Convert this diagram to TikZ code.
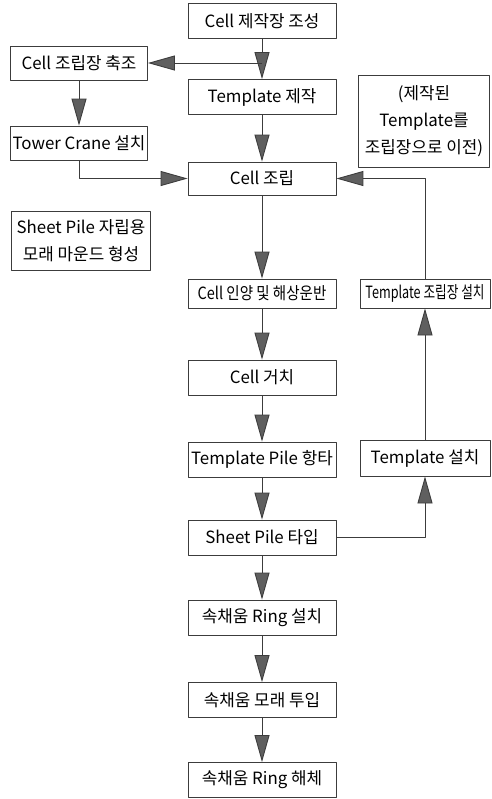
\documentclass[tikz,border=0pt]{standalone}
\usepackage{fontspec}
\usepackage{graphicx}
\setmainfont{Noto Sans CJK KR}
\usetikzlibrary{arrows.meta}
\definecolor{linegray}{RGB}{60,60,60}
\definecolor{tipgray}{RGB}{95,95,95}
\begin{document}
\begin{tikzpicture}[x=0.02cm, y=-0.02cm, font=\fontsize{9.6}{15.5}\selectfont, line join=round,
	box/.style={draw=linegray, line width=0.5pt, inner sep=0pt, align=center, minimum width=2.96cm, minimum height=0.7cm},
	arr/.style={draw=linegray, line width=0.5pt, -{Triangle[length=0.54cm, width=0.3cm, fill=tipgray]}}]
	\useasboundingbox (0,0) rectangle (491,799);
	\def\cx{262} \def\lx{79} \def\rx{425} % giữa, trái, phải (cột)
	% cột giữa
	\node[box] (make) at (\cx,21) {Cell 제작장 조성};
	\node[box] (tpl) at (\cx,97) {Template 제작};
	\node[box, minimum height=0.66cm] (asm) at (\cx,178.5) {Cell 조립};
	\node[box, minimum height=0.58cm] (lift) at (\cx,293.5) {\scalebox{0.86}[1]{Cell 인양 및 해상운반}};
	\node[box] (seat) at (\cx,377.5) {Cell 거치};
	\node[box] (tpile) at (\cx,459.5) {Template Pile 항타};
	\node[box] (spile) at (\cx,537.5) {Sheet Pile 타입};
	\node[box] (rset) at (\cx,617.5) {속채움 Ring 설치};
	\node[box] (sand) at (\cx,700) {속채움 모래 투입};
	\node[box] (rrem) at (\cx,780) {속채움 Ring 해체};
	% cột trái
	\node[box, minimum width=2.74cm, minimum height=0.68cm] (yard) at (\lx,63) {Cell 조립장 축조};
	\node[box, minimum width=2.74cm, minimum height=0.68cm] (crane) at (\lx,143) {Tower Crane 설치};
	\node[box, minimum width=2.78cm, minimum height=1.18cm] (mound) at (81,240.5) {Sheet Pile 자립용\\모래 마운드 형성};
	% cột phải
	\node[box, minimum width=2.62cm, minimum height=1.84cm] (note) at (424,121) {(제작된\\Template를\\조립장으로 이전)};
	\node[box, minimum width=2.6cm, minimum height=0.58cm] (tyard) at (\rx,293.5) {\scalebox{0.75}[1]{Template 조립장 설치}};
	\node[box, minimum width=2.6cm, minimum height=0.72cm] (tset) at (\rx,458) {Template 설치};
	\coordinate (fork) at (\cx,63);
	\draw[arr] (make) -- (tpl);
	\draw[arr] (fork) -- (yard);
	\draw[arr] (yard) -- (crane);
	\draw[arr] (tpl) -- (asm);
	\draw[arr] (crane.south) |- (asm.west);
	\draw[arr] (tyard.north) |- (asm.east);
	\draw[arr] (asm) -- (lift);
	\draw[arr] (lift) -- (seat);
	\draw[arr] (seat) -- (tpile);
	\draw[arr] (tpile) -- (spile);
	\draw[arr] (spile.east) -| (tset.south);
	\draw[arr] (tset) -- (tyard);
	\draw[arr] (spile) -- (rset);
	\draw[arr] (rset) -- (sand);
	\draw[arr] (sand) -- (rrem);
\end{tikzpicture}
\end{document}
